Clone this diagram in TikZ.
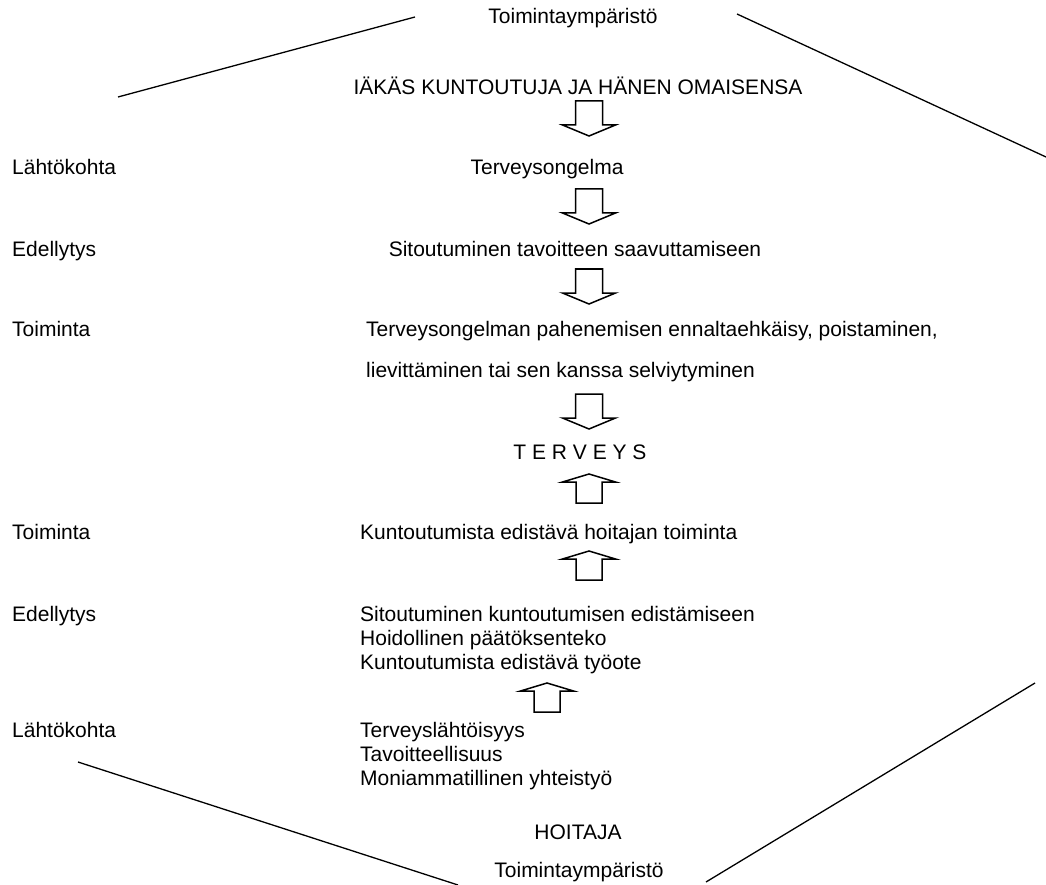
\documentclass[tikz,border=0pt]{standalone}
\usepackage{fontspec}
\setmainfont{Liberation Sans}
\begin{document}
\begin{tikzpicture}[x=1pt,y=-1pt,
  lbl/.style={inner sep=0pt,anchor=base west,font=\fontsize{21}{25}\selectfont},
  ctr/.style={inner sep=0pt,anchor=base,font=\fontsize{21}{25}\selectfont},
  frame/.style={line width=1.3pt},
  blockarrow/.style={line width=1.5pt,line join=miter},
  downarrow/.pic={\draw[blockarrow] (-13.5,0) -- (-13.5,24) -- (-26.5,24) -- (0,35) -- (26.5,24) -- (13.5,24) -- (13.5,0) -- cycle;},
  uparrow/.pic={\draw[blockarrow] (-13,0) -- (-13,-21) -- (-26.5,-21) -- (0,-29) -- (26.5,-21) -- (13,-21) -- (13,0) -- cycle;}
]
\useasboundingbox (0,0) rectangle (1046,885);

% surrounding environment lines
\coordinate (tl1) at (118,97);  \coordinate (tl2) at (415,17);
\coordinate (tr1) at (737,14);  \coordinate (tr2) at (1046,157);
\coordinate (bl1) at (78,762);  \coordinate (bl2) at (458,885);
\coordinate (br1) at (1035,683); \coordinate (br2) at (706,882);
\draw[frame] (tl1) -- (tl2);
\draw[frame] (tr1) -- (tr2);
\draw[frame] (bl1) -- (bl2);
\draw[frame] (br1) -- (br2);

% upper half: the rehabilitee
\node[ctr] (envtop) at (573,24) {Toimintaympäristö};
\node[ctr] (client) at (578,95) {IÄKÄS KUNTOUTUJA JA HÄNEN OMAISENSA};
\pic at (589,101) {downarrow};
\node[lbl] (l1) at (12,175) {Lähtökohta};
\node[ctr] (problem) at (547,175) {Terveysongelma};
\pic at (589,189) {downarrow};
\node[lbl] (l2) at (12,257) {Edellytys};
\node[ctr] (commit) at (575,257) {Sitoutuminen tavoitteen saavuttamiseen};
\pic at (589,269) {downarrow};
\node[lbl] (l3) at (12,336) {Toiminta};
\node[lbl] (act1) at (366,336) {Terveysongelman pahenemisen ennaltaehkäisy, poistaminen,};
\node[lbl] (act2) at (366,377) {lievittäminen tai sen kanssa selviytyminen};
\pic at (589,394) {downarrow};

% centre
\node[ctr] (health) at (580,459) {T E R V E Y S};

% lower half: the nurse
\pic at (589,503) {uparrow};
\node[lbl] (l4) at (12,539) {Toiminta};
\node[lbl] (nact) at (360,539) {Kuntoutumista edistävä hoitajan toiminta};
\pic at (589,580) {uparrow};
\node[lbl] (l5) at (12,621) {Edellytys};
\node[lbl] (c1) at (360,621) {Sitoutuminen kuntoutumisen edistämiseen};
\node[lbl] (c2) at (360,645) {Hoidollinen päätöksenteko};
\node[lbl] (c3) at (360,669) {Kuntoutumista edistävä työote};
\pic at (547,712) {uparrow};
\node[lbl] (l6) at (12,737) {Lähtökohta};
\node[lbl] (s1) at (360,737) {Terveyslähtöisyys};
\node[lbl] (s2) at (360,761) {Tavoitteellisuus};
\node[lbl] (s3) at (360,785) {Moniammatillinen yhteistyö};
\node[ctr] (nurse) at (578,839) {HOITAJA};
\node[ctr] (envbot) at (579,877) {Toimintaympäristö};
\end{tikzpicture}
\end{document}
